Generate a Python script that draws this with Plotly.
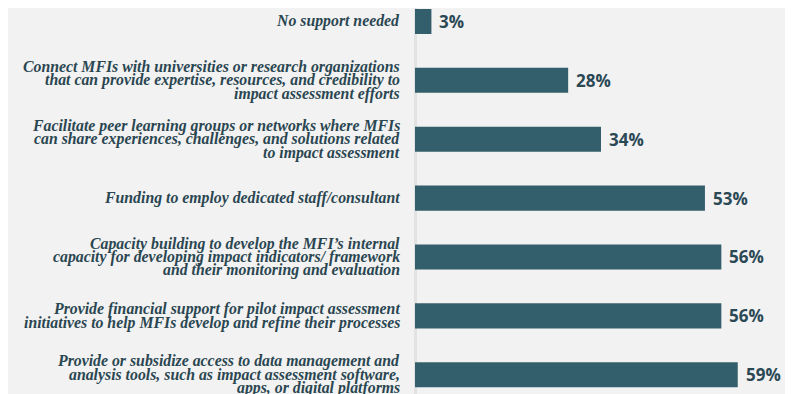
import plotly.graph_objects as go

categories = [
    "No support needed",
    "Connect MFIs with universities or research organizations<br>that can provide expertise, resources, and credibility to<br>impact assessment efforts",
    "Facilitate peer learning groups or networks where MFIs<br>can share experiences, challenges, and solutions related<br>to impact assessment",
    "Funding to employ dedicated staff/consultant",
    "Capacity building to develop the MFI\u2019s internal<br>capacity for developing impact indicators/ framework<br>and their monitoring and evaluation",
    "Provide financial support for pilot impact assessment<br>initiatives to help MFIs develop and refine their processes",
    "Provide or subsidize access to data management and<br>analysis tools, such as impact assessment software,<br>apps, or digital platforms",
]
values = [3, 28, 34, 53, 56, 56, 59]

BAR_COLOR = "#335e6b"
LABEL_COLOR = "#2a4651"
VALUE_COLOR = "#2b4855"
BG = "#f2f2f2"
SERIF = "Liberation Serif, Times New Roman, DejaVu Serif, serif"

fig = go.Figure()
fig.add_trace(go.Bar(
    x=values,
    y=categories,
    orientation="h",
    marker=dict(color=BAR_COLOR, line=dict(width=0)),
    width=0.425,
    hoverinfo="skip",
))

annotations = []
LINE_H = 13.4
for cat, v in zip(categories, values):
    lines = cat.split("<br>")
    n = len(lines)
    for j, line in enumerate(lines):
        annotations.append(dict(
            x=0, y=cat, xref="x", yref="y",
            text="<b><i>" + line + "</i></b>", showarrow=False,
            xanchor="right", yanchor="middle",
            xshift=-13, yshift=((n - 1) / 2 - j) * LINE_H,
            font=dict(family=SERIF, size=15.8, color=LABEL_COLOR),
        ))
    annotations.append(dict(
        x=v, y=cat, xref="x", yref="y",
        text=f"<b>{v}%</b>", showarrow=False,
        xanchor="left", yanchor="middle", xshift=6,
        font=dict(family="Open Sans", size=17, color=VALUE_COLOR),
    ))

fig.update_layout(
    width=785, height=386,
    margin=dict(l=407, r=0, t=0, b=0),
    paper_bgcolor=BG, plot_bgcolor=BG,
    showlegend=False,
    annotations=annotations,
    xaxis=dict(range=[0, 69.1], showgrid=False, showticklabels=False,
               zeroline=True, zerolinecolor="#e2e2e2", zerolinewidth=3,
               fixedrange=True),
    yaxis=dict(range=[6.327, -0.229], showgrid=False, showticklabels=False,
               zeroline=False, showline=False, fixedrange=True),
)

fig.write_html("out.html")
